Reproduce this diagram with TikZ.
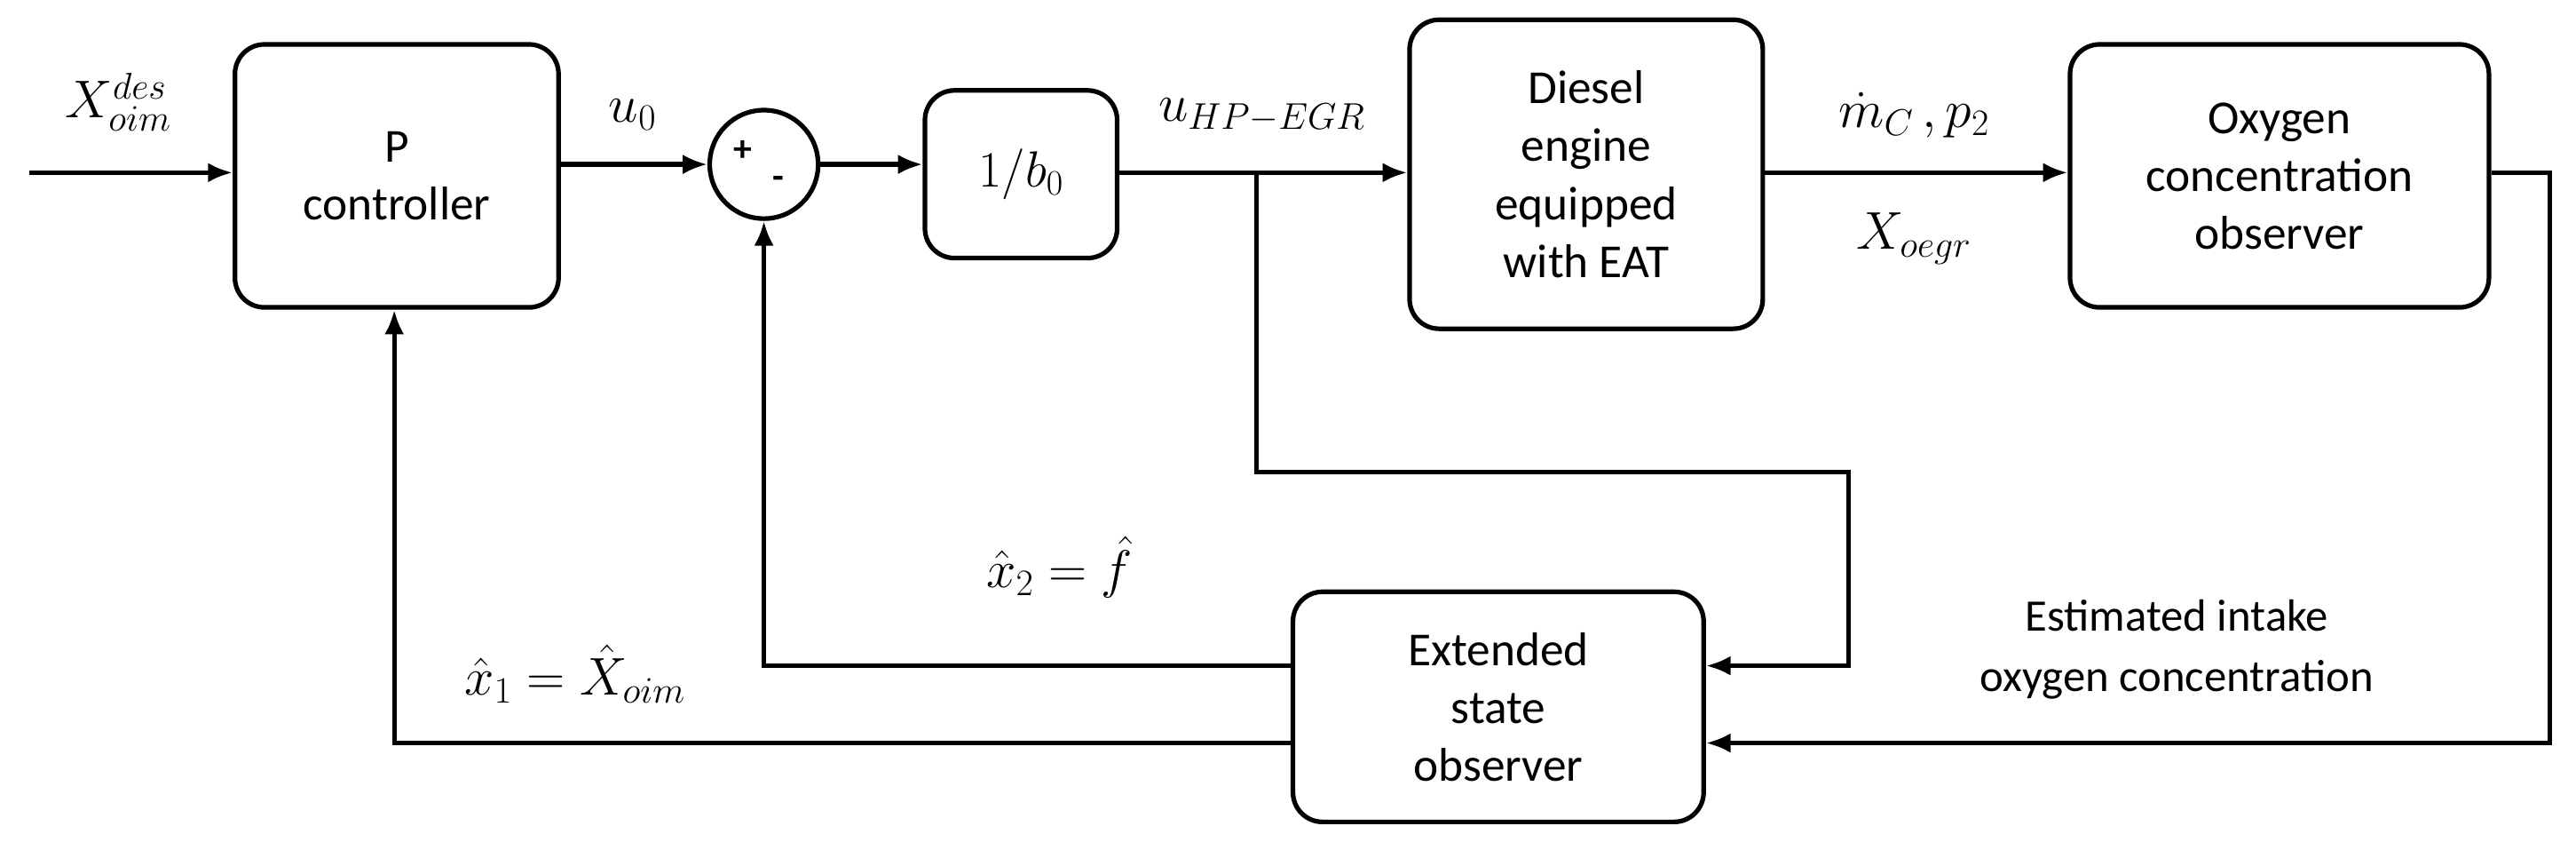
\RequirePackage{fix-cm}
\documentclass[tikz,border=0pt]{standalone}
\usepackage{fontspec}
\setmainfont{Carlito}
\usetikzlibrary{arrows.meta}
\begin{document}
\begin{tikzpicture}[x=0.05cm,y=-0.05cm,
  blk/.style={draw,line width=4pt,rounded corners=0.9cm,align=center,font=\fontsize{41}{50}\selectfont,inner sep=0},
  ln/.style={line width=4pt},
  ar/.style={ln,-{Latex[length=0.75cm,width=0.6cm]}},
  ml/.style={font=\fontsize{46}{54}\selectfont}]
\useasboundingbox (0,0) rectangle (1568,512);
\node[blk,minimum width=9.85cm,minimum height=8cm] (pc) at (241.5,107) {P\\controller};
\node[draw,circle,line width=4pt,minimum size=3.3cm,inner sep=0] (sum) at (465,100) {};
\node[font=\fontsize{32}{32}\selectfont\bfseries] at (452,92) {+};
\node[font=\fontsize{32}{32}\selectfont\bfseries] at (474,111) {-};
\node[blk,minimum width=5.85cm,minimum height=5.1cm] (b0) at (621.5,106) {\fontsize{44}{50}\selectfont$1/b_0$};
\node[blk,minimum width=10.75cm,minimum height=9.4cm] (de) at (965.5,106) {Diesel\\engine\\equipped\\with EAT};
\node[blk,minimum width=12.75cm,minimum height=8cm] (ox) at (1387.5,107) {Oxygen\\concentration\\observer};
\node[blk,minimum width=12.5cm,minimum height=7cm] (eso) at (912,430) {Extended\\state\\observer};
\coordinate (in) at (18,105);
\coordinate (br) at (765,105);
\draw[ar] (in) -- (pc.west|-in);
\draw[ar] (pc.east|-sum) -- (sum.west);
\draw[ar] (sum.east) -- (b0.west|-sum);
\draw[ar] (b0.east|-br) -- (de.west|-br);
\draw[ar] (de.east|-br) -- (ox.west|-br);
\draw[ar] (ox.east|-br) -- (1552,105) -- (1552,452) -- (eso.east|-0,452);
\draw[ar] (br) -- (765,287) -- (1125,287) -- (1125,405) -- (eso.east|-0,405);
\draw[ar] (eso.west|-0,405) -- (465,405) -- (sum.south);
\draw[ar] (eso.west|-0,452) -- (240,452) -- (pc.south-|240,0);
\node[ml] at (72,62) {$X_{oim}^{des}$};
\node[ml] at (385,70) {$u_0$};
\node[ml] at (768,70) {$u_{HP-EGR}$};
\node[ml] at (1165,70) {$\dot m_C\,,p_2$};
\node[ml] at (1165,145) {$X_{oegr}$};
\node[ml] at (645,345) {$\hat x_2=\hat f$};
\node[ml] at (350,410) {$\hat x_1=\hat X_{oim}$};
\node[align=center,font=\fontsize{39}{52}\selectfont] at (1325,395) {Estimated intake\\oxygen concentration};
\end{tikzpicture}
\end{document}
